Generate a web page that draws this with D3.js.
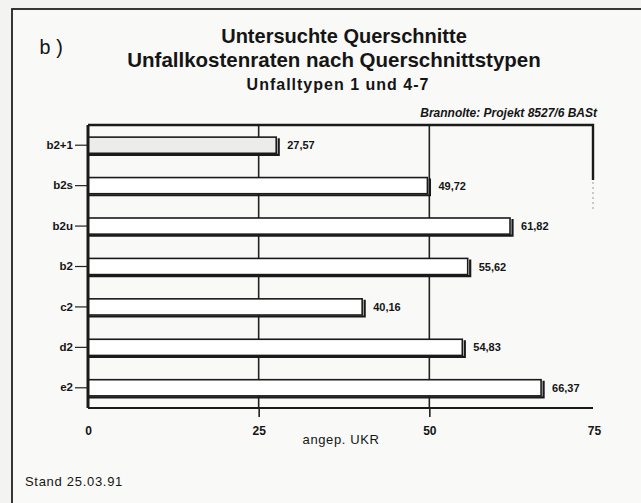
<!DOCTYPE html>
<html>
<head>
<meta charset="utf-8">
<script src="https://cdn.jsdelivr.net/npm/d3@7"></script>
<style>
body { margin: 0; background: #f3f3f1; }
text { font-family: "Liberation Sans", Arial, sans-serif; fill: #151515; }
</style>
</head>
<body>
<script>
// Querschnittstypen und angepasste Unfallkostenraten
var categories = ["b2+1", "b2s", "b2u", "b2", "c2", "d2", "e2"];
var values = [27.57, 49.72, 61.82, 55.62, 40.16, 54.83, 66.37];
var valueLabels = ["27,57", "49,72", "61,82", "55,62", "40,16", "54,83", "66,37"];
var xTicks = [0, 25, 50, 75];

var W = 641, H = 503;

var svg = d3.select("body").append("svg")
    .attr("width", W)
    .attr("height", H);

// page frame
svg.append("rect")
    .attr("x", 12).attr("y", 9)
    .attr("width", 650).attr("height", 520)
    .attr("fill", "#f9f9f7")
    .attr("stroke", "#222")
    .attr("stroke-width", 1.8);

var x = d3.scaleLinear()
    .domain([0, 75])
    .range([88, 600]);

var y = d3.scaleBand()
    .domain(categories)
    .range([125, 408])
    .paddingInner(0.6)
    .paddingOuter(0.3);

var plotTop = 125, plotBottom = 408, plotRight = 593;

// titles
svg.append("text").attr("x", 344).attr("y", 43)
    .attr("text-anchor", "middle").style("font-size", "20px").style("font-weight", "bold")
    .text("Untersuchte Querschnitte");
svg.append("text").attr("x", 334).attr("y", 67)
    .attr("text-anchor", "middle").style("font-size", "20.5px").style("font-weight", "bold")
    .text("Unfallkostenraten nach Querschnittstypen");
svg.append("text").attr("x", 338).attr("y", 90)
    .attr("text-anchor", "middle").style("font-size", "16px").style("font-weight", "bold")
    .style("letter-spacing", "1px")
    .text("Unfalltypen 1 und 4-7");
svg.append("text").attr("x", 39).attr("y", 54)
    .style("font-family", "'Liberation Mono', monospace").style("font-size", "20px")
    .style("letter-spacing", "2px")
    .text("b)");
svg.append("text").attr("x", 597).attr("y", 117)
    .attr("text-anchor", "end").style("font-size", "12px").style("font-style", "italic")
    .style("font-weight", "bold")
    .text("Brannolte: Projekt 8527/6 BASt");

// gridlines at 25 and 50
svg.append("g").selectAll("line")
    .data(xTicks.filter(function(d) { return d > 0 && d < 75; }))
    .enter().append("line")
    .attr("x1", function(d) { return x(d); })
    .attr("x2", function(d) { return x(d); })
    .attr("y1", plotTop).attr("y2", plotBottom)
    .attr("stroke", "#222").attr("stroke-width", 1.6);

// plot frame: top line, right stub
var frame = svg.append("g").attr("stroke", "#1a1a1a").attr("fill", "none");
frame.append("path")
    .attr("d", "M" + x(0) + "," + plotTop + "H" + plotRight + "V" + (plotTop + 55))
    .attr("stroke-width", 2.4);
frame.append("path")
    .attr("d", "M" + plotRight + "," + (plotTop + 57) + "V" + (plotTop + 85))
    .attr("stroke-width", 1).attr("stroke-dasharray", "2,3").attr("stroke", "#999");

// bars
var bars = svg.append("g").selectAll("g.bar")
    .data(categories)
    .enter().append("g").attr("class", "bar");

bars.append("rect")
    .attr("x", x(0))
    .attr("y", function(d) { return y(d); })
    .attr("width", function(d, i) { return x(values[i]) - x(0); })
    .attr("height", y.bandwidth())
    .attr("fill", function(d, i) { return i === 0 ? "#ececea" : "#fff"; })
    .attr("stroke", "#1a1a1a")
    .attr("stroke-width", 1.6);

// shadow edge under and right of each bar
bars.append("path")
    .attr("d", function(d, i) {
        var y0 = y(d), h = y.bandwidth(), x1 = x(values[i]);
        return "M" + x(0) + "," + (y0 + h + 1.5) + "H" + (x1 + 2.5) + "V" + (y0 + 1);
    })
    .attr("fill", "none").attr("stroke", "#1a1a1a").attr("stroke-width", 2.2);

bars.append("text")
    .attr("x", function(d, i) { return x(values[i]) + 11; })
    .attr("y", function(d) { return y(d) + y.bandwidth() / 2 + 4; })
    .style("font-size", "11px").style("font-weight", "bold")
    .text(function(d, i) { return valueLabels[i]; });

// y axis
var yAxis = d3.axisLeft(y).tickSize(13).tickPadding(2);
var gy = svg.append("g")
    .attr("transform", "translate(" + x(0) + ",0)")
    .call(yAxis);
gy.select(".domain").attr("stroke", "#1a1a1a").attr("stroke-width", 3)
    .attr("d", "M0," + plotTop + "V" + plotBottom);
gy.selectAll("line").attr("stroke", "#222").attr("stroke-width", 1.2);
gy.selectAll("text").style("font-size", "11.5px").style("font-weight", "bold")
    .style("font-family", "'Liberation Sans', Arial, sans-serif");

// x axis
var xAxis = d3.axisBottom(x).tickValues(xTicks).tickSize(9).tickPadding(9).tickSizeOuter(0);
var gx = svg.append("g")
    .attr("transform", "translate(0," + plotBottom + ")")
    .call(xAxis);
gx.select(".domain").attr("stroke", "#1a1a1a").attr("stroke-width", 2.2)
    .attr("d", "M" + x(0) + ",0H" + plotRight);
gx.selectAll("line").attr("stroke", "#222").attr("stroke-width", 1.6)
    .filter(function(d) { return d === 0 || d === 75; }).remove();
gx.selectAll("text").style("font-size", "12px").style("font-weight", "bold")
    .style("font-family", "'Liberation Sans', Arial, sans-serif");
gx.selectAll(".tick").filter(function(d) { return d === 75; }).select("text")
    .attr("fill", "#aaa").attr("dx", -6);

svg.append("text").attr("x", 341).attr("y", 444)
    .attr("text-anchor", "middle").style("font-size", "13px")
    .style("letter-spacing", "0.6px")
    .text("angep. UKR");

svg.append("text").attr("x", 25).attr("y", 486)
    .style("font-size", "13px").style("letter-spacing", "0.7px")
    .text("Stand 25.03.91");
</script>
</body>
</html>
